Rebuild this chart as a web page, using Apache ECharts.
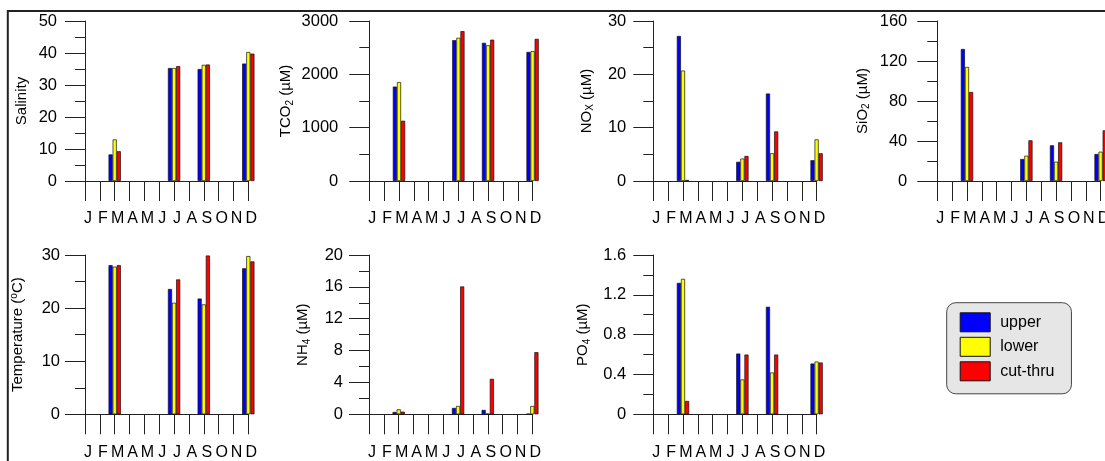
<!DOCTYPE html>
<html><head><meta charset="utf-8">
<script src="https://cdn.jsdelivr.net/npm/echarts@6/dist/echarts.min.js"></script>
<style>html,body{margin:0;padding:0;background:#fff}#c{width:1105px;height:461px}</style>
</head><body><div id="c"></div>
<script>
// ---- categories / labels ----
const monthKeys = ['Jan','Feb','Mar','Apr','May','Jun','Jul','Aug','Sep','Oct','Nov','Dec'];
const monthLabels = ['J','F','M','A','M','J','J','A','S','O','N','D'];
const seriesNames = ['upper','lower','cut-thru'];

// ---- data (null = no sample) ----
const salinityUpper = [null,null,8.3,null,null,null,35.3,null,35.0,null,null,36.7];
const salinityLower = [null,null,13.0,null,null,null,35.3,null,36.3,null,null,40.3];
const salinityCut   = [null,null,9.3,null,null,null,35.9,null,36.4,null,null,39.8];

const tco2Upper = [null,null,1770,null,null,null,2640,null,2590,null,null,2420];
const tco2Lower = [null,null,1855,null,null,null,2685,null,2545,null,null,2435];
const tco2Cut   = [null,null,1130,null,null,null,2810,null,2650,null,null,2665];

const noxUpper = [null,null,27.2,null,null,null,3.6,null,16.4,null,null,3.9];
const noxLower = [null,null,20.7,null,null,null,4.2,null,5.2,null,null,7.8];
const noxCut   = [null,null,0.2,null,null,null,4.7,null,9.3,null,null,5.2];

const sio2Upper = [null,null,132,null,null,null,22.0,null,35.7,null,null,27.0];
const sio2Lower = [null,null,114,null,null,null,25.3,null,19.3,null,null,29.3];
const sio2Cut   = [null,null,89,null,null,null,40.7,null,38.7,null,null,50.7];

const tempUpper = [null,null,28.1,null,null,null,23.6,null,21.8,null,null,27.5];
const tempLower = [null,null,27.8,null,null,null,21.0,null,20.7,null,null,29.8];
const tempCut   = [null,null,28.1,null,null,null,25.4,null,29.9,null,null,28.8];

const nh4Upper = [null,null,0.29,null,null,null,0.8,null,0.55,null,null,0.05];
const nh4Lower = [null,null,0.63,null,null,null,1.05,null,0.08,null,null,1.05];
const nh4Cut   = [null,null,0.33,null,null,null,16.05,null,4.45,null,null,7.8];

const po4Upper = [null,null,1.32,null,null,null,0.61,null,1.08,null,null,0.51];
const po4Lower = [null,null,1.36,null,null,null,0.35,null,0.42,null,null,0.53];
const po4Cut   = [null,null,0.134,null,null,null,0.6,null,0.6,null,null,0.52];

// ---- axis titles / ranges ----
const yTitles = ['Salinity','TCO{s|2} (µM)','NO{s|X} (µM)','SiO{s|2} (µM)','Temperature ({o|o}C)','NH{s|4} (µM)','PO{s|4} (µM)'];
const yMax = [50, 3000, 30, 160, 30, 20, 1.6];
const yInterval = [10, 1000, 10, 40, 10, 4, 0.4];
const panelData = [
  [salinityUpper, salinityLower, salinityCut],
  [tco2Upper, tco2Lower, tco2Cut],
  [noxUpper, noxLower, noxCut],
  [sio2Upper, sio2Lower, sio2Cut],
  [tempUpper, tempLower, tempCut],
  [nh4Upper, nh4Lower, nh4Cut],
  [po4Upper, po4Lower, po4Cut]
];

// ---- layout / style ----
const FONT = "'Liberation Sans', Arial, sans-serif";
const colors = ['#0000ff', '#ffff00', '#ff0000'];
const gridLefts = [85, 369.3, 653.3, 937.3, 85, 369, 653.3];
const gridTops = [21, 21, 21, 21, 255, 255, 255];
const gridHeights = [160, 160, 160, 160, 159.3, 159.3, 159.3];
const gridWidth = 163.3;
const nameGaps = [54, 74.5, 57.7, 65.8, 57.7, 56.7, 61];
const labelMargins = [28, 31, 27, 30, 25, 26, 27];
const LINE = '#222';

const grids = [], xAxes = [], yAxes = [], series = [];
panelData.forEach((sets, i) => {
  grids.push({left: gridLefts[i], top: gridTops[i], width: gridWidth, height: gridHeights[i], containLabel: false, outerBoundsMode: 'none'});
  xAxes.push({
    type: 'category', gridIndex: i, data: monthKeys, boundaryGap: false,
    axisLine: {show: true, onZero: false, lineStyle: {color: LINE, width: 1}},
    axisTick: {show: true, interval: 0, length: 20, inside: false, lineStyle: {color: LINE, width: 1}},
    axisLabel: {interval: 0, margin: 30, fontSize: 16, color: '#000', fontFamily: FONT,
      padding: [0, 0, 0, 6], formatter: (v, idx) => monthLabels[idx]},
    splitLine: {show: false}
  });
  yAxes.push({
    type: 'value', gridIndex: i, min: 0, max: yMax[i], interval: yInterval[i],
    name: yTitles[i], nameLocation: 'middle', nameGap: nameGaps[i], nameRotate: 90,
    nameTextStyle: {fontSize: 15, color: '#000', fontFamily: FONT, lineHeight: 18,
      rich: {
        s: {fontSize: 10, lineHeight: 11, verticalAlign: 'bottom', fontFamily: FONT, color: '#000'},
        o: {fontSize: 10, lineHeight: 11, verticalAlign: 'top', fontFamily: FONT, color: '#000'}
      }},
    axisLine: {show: true, lineStyle: {color: LINE, width: 1}},
    axisTick: {show: true, length: 20, inside: false, lineStyle: {color: LINE, width: 1}},
    minorTick: {show: true, splitNumber: 2, length: 10, lineStyle: {color: LINE, width: 1}},
    axisLabel: {margin: labelMargins[i], fontSize: 16.5, color: '#000', fontFamily: FONT, formatter: v => String(v)},
    splitLine: {show: false}, minorSplitLine: {show: false}
  });
  sets.forEach((vals, k) => {
    series.push({
      type: 'bar', name: seriesNames[k], xAxisIndex: i, yAxisIndex: i, data: vals,
      barWidth: 4.1, barGap: '0%', clip: false,
      itemStyle: {color: colors[k], borderColor: '#111', borderWidth: 0.7},
      emphasis: {disabled: true}
    });
  });
});

const chart = echarts.init(document.getElementById('c'), null, {renderer: 'canvas'});
chart.setOption({
  animation: false,
  backgroundColor: '#fff',
  textStyle: {fontFamily: FONT},
  grid: grids, xAxis: xAxes, yAxis: yAxes, series: series,
  legend: {
    data: seriesNames, orient: 'vertical', left: 946.7, top: 302.7,
    itemWidth: 30, itemHeight: 19, itemGap: 4.5, icon: 'rect',
    padding: [9.6, 17, 12.5, 13], backgroundColor: '#e6e6e6', borderColor: '#444', borderWidth: 1, borderRadius: 9,
    textStyle: {fontSize: 16, color: '#000', fontFamily: FONT, padding: [0, 0, 0, 5]},
    itemStyle: {borderColor: '#111', borderWidth: 1},
    selectedMode: false
  },
  graphic: [{
    type: 'rect', silent: true, z: 100,
    shape: {x: 7.8, y: 11, width: 1300, height: 700},
    style: {fill: 'none', stroke: '#222', lineWidth: 2}
  }]
});
</script></body></html>
